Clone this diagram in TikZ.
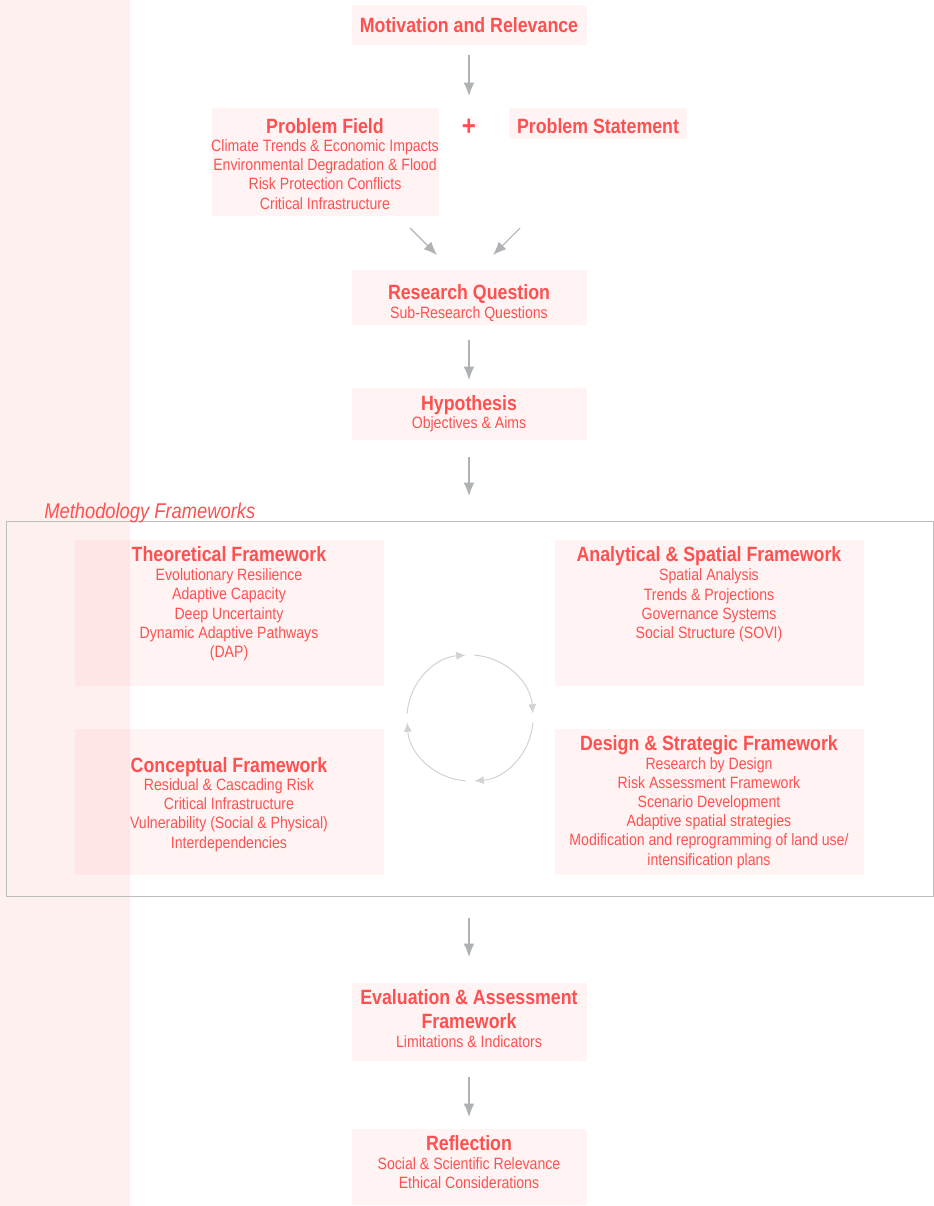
\documentclass[tikz,border=0pt]{standalone}
\usepackage{fontspec}
\setmainfont{Liberation Sans}[FakeStretch=0.86]
\usetikzlibrary{arrows.meta,fit}
\definecolor{txt}{HTML}{FF5050}
\definecolor{arr}{HTML}{AEB2B6}
\definecolor{cyc}{HTML}{D2D2D2}
\definecolor{frm}{HTML}{BDBDBD}
\begin{document}
\begin{tikzpicture}[x=0.75pt,y=-0.75pt,
  box/.style={draw=none,fill=txt,fill opacity=0.065,inner sep=0pt},
  band/.style={draw=none,fill=txt,fill opacity=0.085,inner sep=0pt},
  ttl/.style={text=txt,font=\bfseries\fontsize{15.5pt}{18pt}\selectfont,inner sep=0pt,anchor=base,align=center},
  sub/.style={text=txt,font=\fontsize{12.3pt}{14.4pt}\selectfont,inner sep=0pt,anchor=base,align=center},
  flow/.style={draw=arr,line width=0.8pt,-{Latex[length=10pt,width=8pt]}},
  cyclearr/.style={draw=cyc,line width=0.75pt,-{Latex[length=7pt,width=6pt]}}]
\useasboundingbox (0,0) rectangle (934,1206);
% boxes
\node[box,fit={(352,5)(587,45)}] (mot) {};
\node[box,fit={(212,108)(439,216)}] (pf) {};
\node[box,fit={(509,108)(687,139)}] (ps) {};
\node[box,fit={(352,270)(587,325)}] (rq) {};
\node[box,fit={(352,388)(587,440)}] (hy) {};
\node[box,fit={(75,540)(384,686)}] (tf) {};
\node[box,fit={(555,540)(864,686)}] (af) {};
\node[box,fit={(75,729)(384,875)}] (cf) {};
\node[box,fit={(555,729)(864,875)}] (df) {};
\node[box,fit={(352,983)(587,1061)}] (ev) {};
\node[box,fit={(352,1129)(587,1205)}] (re) {};
% left band
\node[band,fit={(0,0)(130,1206)}] (bandnode) {};
% frame
\node[draw=frm,line width=0.7pt,inner sep=0pt,fit={(6,521)(933,896)}] (frame) {};
\node[text=txt,font=\itshape\fontsize{16pt}{18pt}\selectfont,inner sep=0pt,anchor=base west] (methlbl) at (44,518) {Methodology Frameworks};
% texts (anchor=base sits on the last line's baseline)
\node[ttl] (mot-t) at (469,33) {Motivation and Relevance};
\node[ttl] (pf-t) at (325,133) {Problem Field};
\node[sub] (pf-s) at (325,209) {Climate Trends \& Economic Impacts\\Environmental Degradation \& Flood\\Risk Protection Conflicts\\Critical Infrastructure};
\node[text=txt,font=\bfseries\fontsize{21pt}{22pt}\selectfont,inner sep=0pt,anchor=center] (plus) at (469,127) {+};
\node[ttl] (ps-t) at (598,133) {Problem Statement};
\node[ttl] (rq-t) at (469,299) {Research Question};
\node[sub] (rq-s) at (469,318) {Sub-Research Questions};
\node[ttl] (hy-t) at (469,410) {Hypothesis};
\node[sub] (hy-s) at (469,428) {Objectives \& Aims};
\node[ttl] (tf-t) at (229,561) {Theoretical Framework};
\node[sub] (tf-s) at (229,657.5) {Evolutionary Resilience\\Adaptive Capacity\\Deep Uncertainty\\Dynamic Adaptive Pathways\\(DAP)};
\node[ttl] (af-t) at (709,561) {Analytical \& Spatial Framework};
\node[sub] (af-s) at (709,638.5) {Spatial Analysis\\Trends \& Projections\\Governance Systems\\Social Structure (SOVI)};
\node[ttl] (cf-t) at (229,772) {Conceptual Framework};
\node[sub] (cf-s) at (229,848) {Residual \& Cascading Risk\\Critical Infrastructure\\Vulnerability (Social \& Physical)\\Interdependencies};
\node[ttl] (df-t) at (709,750) {Design \& Strategic Framework};
\node[sub] (df-s) at (709,865) {Research by Design\\Risk Assessment Framework\\Scenario Development\\Adaptive spatial strategies\\Modification and reprogramming of land use/\\intensification plans};
\node[ttl] (ev-t) at (469,1028) {Evaluation \& Assessment\\Framework};
\node[sub] (ev-s) at (469,1047) {Limitations \& Indicators};
\node[ttl] (re-t) at (469,1150) {Reflection};
\node[sub] (re-s) at (469,1188.5) {Social \& Scientific Relevance\\Ethical Considerations};
% connectors
\coordinate (a1s) at (469,55); \coordinate (a1e) at (469,96);
\draw[flow] (a1s) -- (a1e);
\coordinate (a2s) at (410,228); \coordinate (a2e) at (437,255);
\draw[flow] (a2s) -- (a2e);
\coordinate (a3s) at (520,228); \coordinate (a3e) at (493,255);
\draw[flow] (a3s) -- (a3e);
\coordinate (a4s) at (469,340); \coordinate (a4e) at (469,380);
\draw[flow] (a4s) -- (a4e);
\coordinate (a5s) at (469,457); \coordinate (a5e) at (469,496);
\draw[flow] (a5s) -- (a5e);
\coordinate (a6s) at (469,918); \coordinate (a6e) at (469,957);
\draw[flow] (a6s) -- (a6e);
\coordinate (a7s) at (469,1077); \coordinate (a7e) at (469,1117);
\draw[flow] (a7s) -- (a7e);
% cycle
\coordinate (cc) at (470,718);
\draw[cyclearr] (cc) ++(184:63) arc[start angle=184,end angle=266,radius=63];
\draw[cyclearr] (cc) ++(274:63) arc[start angle=274,end angle=356,radius=63];
\draw[cyclearr] (cc) ++(4:63) arc[start angle=4,end angle=86,radius=63];
\draw[cyclearr] (cc) ++(94:63) arc[start angle=94,end angle=176,radius=63];
\end{tikzpicture}
\end{document}
